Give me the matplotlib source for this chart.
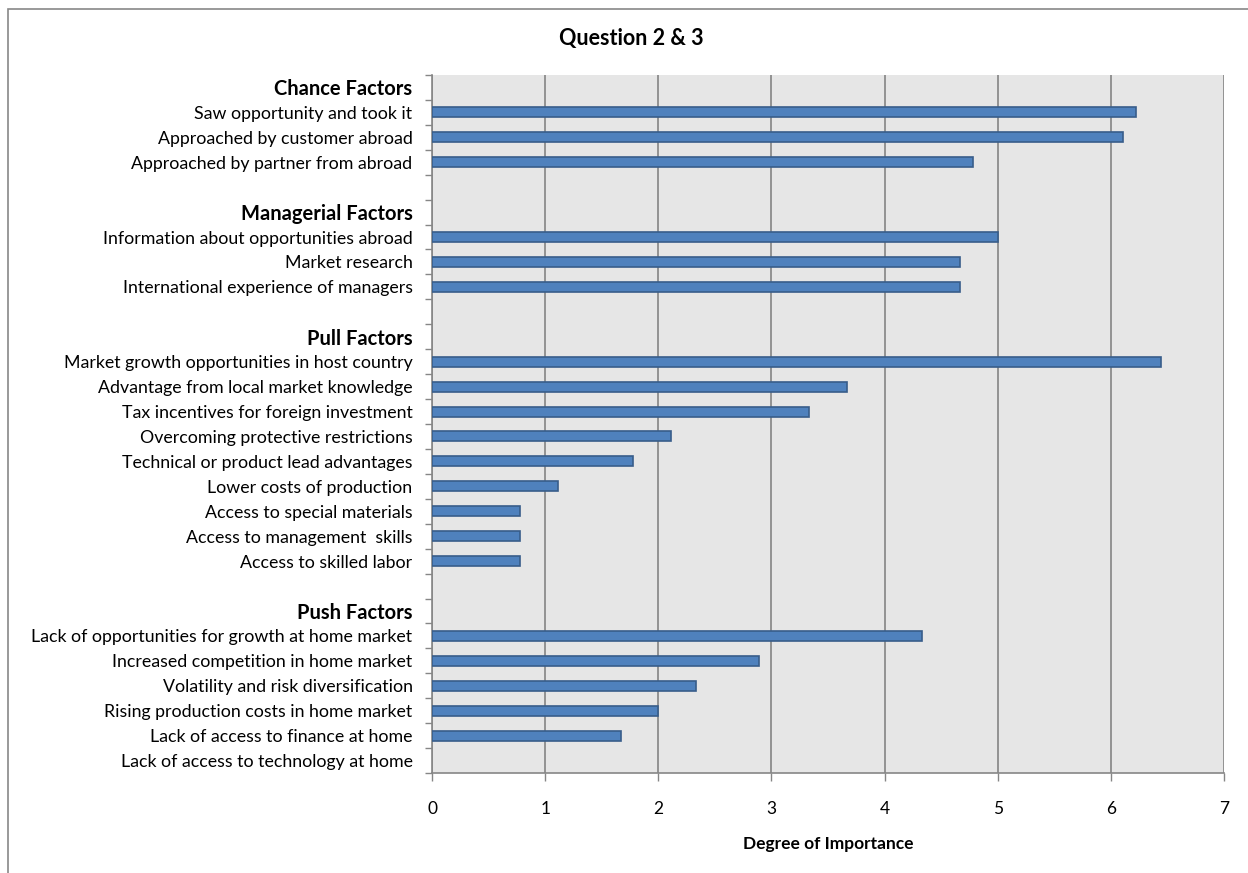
import matplotlib
matplotlib.use("Agg")
import matplotlib.pyplot as plt
import numpy as np

# ================== DATA ==================
labels = [
    "Chance Factors",
    "Saw opportunity and took it",
    "Approached by customer abroad",
    "Approached by partner from abroad",
    "",
    "Managerial Factors",
    "Information about opportunities abroad",
    "Market research",
    "International experience of managers",
    "",
    "Pull Factors",
    "Market growth opportunities in host country",
    "Advantage from local market knowledge",
    "Tax incentives for foreign investment",
    "Overcoming protective restrictions",
    "Technical or product lead advantages",
    "Lower costs of production",
    "Access to special materials",
    "Access to management  skills",
    "Access to skilled labor",
    "",
    "Push Factors",
    "Lack of opportunities for growth at home market",
    "Increased competition in home market",
    "Volatility and risk diversification",
    "Rising production costs in home market",
    "Lack of access to finance at home",
    "Lack of access to technology at home",
]

values = [
    None, 6.22, 6.11, 4.78,
    None,
    None, 5.00, 4.67, 4.67,
    None,
    None, 6.44, 3.67, 3.33, 2.11, 1.78, 1.11, 0.78, 0.78, 0.78,
    None,
    None, 4.33, 2.89, 2.33, 2.00, 1.67, 0.00,
]

headers = ["Chance Factors", "Managerial Factors", "Pull Factors", "Push Factors"]

# ================== PLOT ==================
plt.rcParams["font.family"] = ["Lato", "DejaVu Sans"]

fig = plt.figure(figsize=(12.48, 8.73), dpi=100)
ax = fig.add_axes([432 / 1248, 1 - 773 / 873, 792 / 1248, 698 / 873])
ax.set_facecolor("#E6E6E6")

pos = np.arange(len(labels))
idx = [i for i, v in enumerate(values) if v is not None and v > 0]
ax.barh(pos[idx], [values[i] for i in idx], height=0.4,
        color="#4F81BD", edgecolor="#385D8A", linewidth=1.2, zorder=3)

ax.set_xlim(0, 7)
ax.set_ylim(len(labels) - 0.5, -0.5)
ax.set_xticks(range(8))
ax.grid(axis="x", color="#8C8C8C", linewidth=1.3, zorder=1)

ax.set_yticks(pos)
ax.set_yticklabels(labels, fontsize=12.8)
for t in ax.get_yticklabels():
    if t.get_text() in headers:
        t.set_fontweight("bold")
        t.set_fontsize(14.5)
ax.tick_params(axis="y", length=0, pad=14)
ax.set_yticks(np.arange(-0.5, len(labels)), minor=True)
ax.tick_params(axis="y", which="minor", length=5, color="#868686", width=1)

ax.tick_params(axis="x", length=6, color="#868686", width=1, pad=14, labelsize=12.5)

for s in ["top", "right"]:
    ax.spines[s].set_visible(False)
for s in ["left", "bottom"]:
    ax.spines[s].set_color("#868686")
    ax.spines[s].set_linewidth(1.2)

ax.set_xlabel("Degree of Importance", fontsize=12.5, fontweight="bold", labelpad=14)
fig.text(631 / 1248, 1 - 39 / 873, "Question 2 & 3", ha="center", va="center",
         fontsize=15.5, fontweight="bold")

# outer chart frame
fig.patches.append(plt.Rectangle((8 / 1248, -0.5), 2, (873 - 9) / 873 + 0.5,
                                 transform=fig.transFigure, fill=False,
                                 edgecolor="#888888", linewidth=1.2))

fig.savefig("out.png", dpi=100)
